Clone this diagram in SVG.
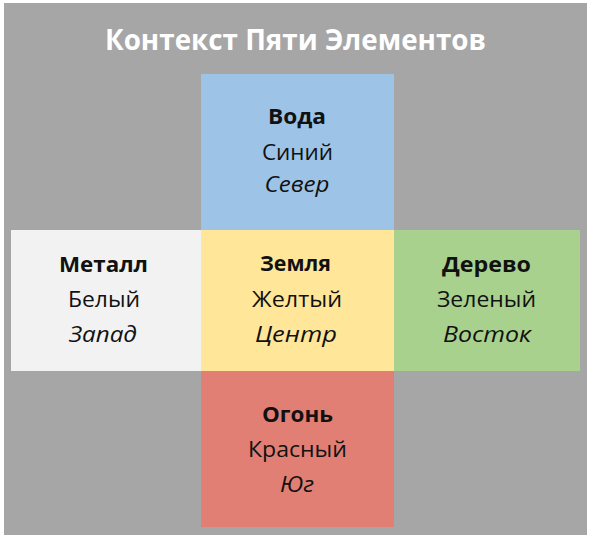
<svg xmlns="http://www.w3.org/2000/svg" width="591" height="541" viewBox="0 0 591 541">
<style>
text{font-family:"Open Sans","Noto Sans","Liberation Sans",sans-serif;text-anchor:middle;fill:#111;}
.t{font-size:29px;font-weight:bold;fill:#fff;}
.n{font-size:21px;font-weight:bold;}
.c{font-size:21px;}
.d{font-size:21px;font-style:italic;}
</style>
<rect x="0" y="0" width="591" height="541" fill="#ffffff"/>
<rect x="4" y="3" width="583" height="532" fill="#a6a6a6"/>
<text class="t" x="295.5" y="50" textLength="381" lengthAdjust="spacingAndGlyphs">Контекст Пяти Элементов</text>
<g id="connectors"/>
<g id="water">
<rect x="201" y="74" width="193" height="156" fill="#9dc3e6"/>
<text class="n" x="297" y="124" textLength="58" lengthAdjust="spacingAndGlyphs">Вода</text>
<text class="c" x="297.5" y="160" textLength="71" lengthAdjust="spacingAndGlyphs">Синий</text>
<text class="d" x="297" y="192" textLength="65" lengthAdjust="spacingAndGlyphs">Север</text>
</g>
<g id="metal">
<rect x="11" y="230" width="190" height="141" fill="#f2f2f2"/>
<text class="n" x="103.5" y="272" textLength="89" lengthAdjust="spacingAndGlyphs">Металл</text>
<text class="c" x="104" y="307" textLength="72" lengthAdjust="spacingAndGlyphs">Белый</text>
<text class="d" x="103" y="342" textLength="68" lengthAdjust="spacingAndGlyphs">Запад</text>
</g>
<g id="earth">
<rect x="201" y="230" width="193" height="141" fill="#ffe699"/>
<text class="n" x="295.5" y="271" textLength="71" lengthAdjust="spacingAndGlyphs">Земля</text>
<text class="c" x="297" y="307" textLength="90" lengthAdjust="spacingAndGlyphs">Желтый</text>
<text class="d" x="296" y="342" textLength="82" lengthAdjust="spacingAndGlyphs">Центр</text>
</g>
<g id="wood">
<rect x="394" y="230" width="186" height="141" fill="#a9d18e"/>
<text class="n" x="486.5" y="272" textLength="89" lengthAdjust="spacingAndGlyphs">Дерево</text>
<text class="c" x="486.5" y="307" textLength="99" lengthAdjust="spacingAndGlyphs">Зеленый</text>
<text class="d" x="487" y="342" textLength="88" lengthAdjust="spacingAndGlyphs">Восток</text>
</g>
<g id="fire">
<rect x="201" y="371" width="193" height="156" fill="#e27f74"/>
<text class="n" x="297.5" y="422" textLength="71" lengthAdjust="spacingAndGlyphs">Огонь</text>
<text class="c" x="297.5" y="457" textLength="99" lengthAdjust="spacingAndGlyphs">Красный</text>
<text class="d" x="297" y="492" textLength="34" lengthAdjust="spacingAndGlyphs">Юг</text>
</g>
</svg>
